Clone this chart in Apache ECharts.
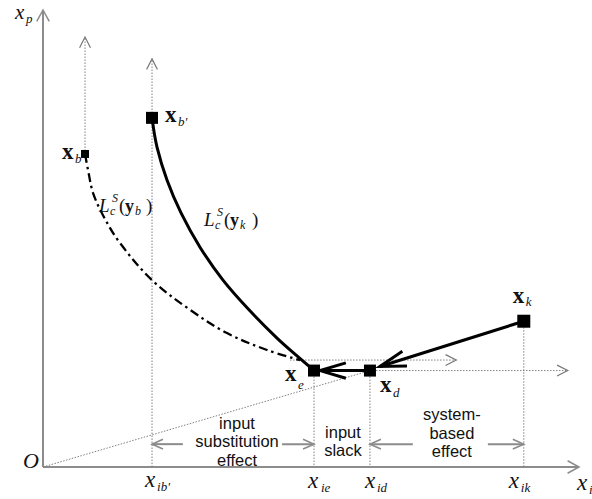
<!DOCTYPE html>
<html><head><meta charset="utf-8">
<script src="https://cdn.jsdelivr.net/npm/echarts@6/dist/echarts.min.js"></script>
<style>html,body{margin:0;padding:0;background:#fff}#c{width:592px;height:499px}</style>
</head><body><div id="c"></div>
<script>
// ---- data (abstract input units, axes 0..100) ----
const pointNames = ['x_b', "x_b'", 'x_e', 'x_d', 'x_k'];
const pointX = [7.84, 20.34, 50.56, 61.0, 89.7];
const pointY = [68.5, 76.4, 21.1, 21.1, 31.9];

// isoquant L_c^S(y_k) (solid) from x_b' to x_e
const curveKX = [20.34, 21.27, 23.13, 25.75, 29.29, 33.58, 38.43, 43.66, 47.39, 50.56];
const curveKY = [76.4, 70.0, 62.8, 55.6, 48.1, 40.9, 34.4, 28.2, 24.3, 21.1];
// isoquant L_c^S(y_b) (dash-dot) from x_b
const curveBX = [7.84, 8.40, 9.33, 11.19, 14.37, 20.34, 27.43, 34.33, 41.79, 47.95];
const curveBY = [68.5, 65.0, 60.0, 55.1, 49.0, 40.9, 34.4, 29.3, 25.6, 23.4];

// guide arrows
const axisMax = 100;
const verticalTops = [94.1, 89.3];          // arrow tips above x_b and x_b'
const upperLineY = 23.4, upperLineX = [46.1, 77.1];
const lowerLineEndX = 97.9;
const tipKtoD = [62.87, 22.0];               // arrow head near x_d
const tipDtoE = [51.68, 21.1];               // arrow head near x_e
const bracketY = 5.0;
const bracketTails = [26.1, 44.6, 69.0, 83.0];

// ---- styles / layout ----
const pointSize = [8, 12, 12, 12, 13];
const SERIF = '"Liberation Serif","Times New Roman",serif';
const SANS = '"Liberation Sans",Arial,sans-serif';
const FONTS = {
  mi: {font: 'italic 23px ' + SERIF, size: 23},
  mt: {font: 'italic 21px ' + SERIF, size: 21},
  O:  {font: 'italic 22px ' + SERIF, size: 22},
  ms: {font: 'italic 13px ' + SERIF, size: 13},
  bx: {font: 'bold 23px ' + SERIF, size: 23},
  L:  {font: 'italic 19px ' + SERIF, size: 19},
  sm: {font: 'italic 12px ' + SERIF, size: 12},
  p:  {font: '19px ' + SERIF, size: 19},
  by: {font: 'bold 18px ' + SERIF, size: 18},
  sans: {font: '16.5px ' + SANS, size: 16.5, center: true}
};
const ARROW = [
  {color: '#8c8c8c', width: 2, dash: null, head: 13, spread: 0.5, hw: 1.5},   // 0 axes
  {color: '#808080', width: 1, dash: [1.5, 1.5], head: 12, spread: 0.47, hw: 1.2, hc: '#777'}, // 1 dotted guide with head
  {color: '#000', width: 3, dash: null, head: 27, spread: 0.29, hw: 3},       // 2 thick
  {color: '#8c8c8c', width: 2, dash: null, head: 12, spread: 0.42, hw: 1.6},  // 3 annotation
  {color: '#808080', width: 1, dash: [1.5, 1.5], head: 0}                     // 4 dotted plain
];

const P = i => [pointX[i], pointY[i]];
const anchors = {
  yTip: [0, axisMax], xTip: [axisMax, 0], O: [0, 0],
  xb: P(0), xbp: P(1), xe: P(2), xd: P(3), xk: P(4),
  ib: [pointX[1], 0], ie: [pointX[2], 0], id: [pointX[3], 0], ik: [pointX[4], 0],
  mid1: [(pointX[1] + pointX[2]) / 2, 0], mid2: [(pointX[2] + pointX[3]) / 2, 0], mid3: [(pointX[3] + pointX[4]) / 2, 0]
};
// [anchor, dx, dy (baseline, or middle for sans), text, font]
const pieces = [
  ['yTip', -28, 9, 'x', 'mt'], ['yTip', -17, 13, 'p', 'ms'],
  ['O', -20, 1, 'O', 'O'],
  ['ib', -7, 20, 'x', 'mi'], ['ib', 5, 24, "ib'", 'ms'],
  ['ie', -6, 21, 'x', 'mi'], ['ie', 7, 25, 'ie', 'ms'],
  ['id', -5, 21, 'x', 'mi'], ['id', 7, 25, 'id', 'ms'],
  ['ik', -15, 21, 'x', 'mi'], ['ik', -3, 25, 'ik', 'ms'],
  ['xTip', -2, 23, 'x', 'mi'], ['xTip', 10, 27, 'i', 'ms'],
  ['xb', -23, 5, 'x', 'bx'], ['xb', -10, 9, 'b', 'ms'],
  ['xbp', 13, 4, 'x', 'bx'], ['xbp', 26, 8, "b'", 'ms'],
  ['xe', -29, 11, 'x', 'bx'], ['xe', -16, 18, 'e', 'ms'],
  ['xd', 10, 22, 'x', 'bx'], ['xd', 23, 26, 'd', 'ms'],
  ['xk', -11, -18, 'x', 'bx'], ['xk', 2, -15, 'k', 'ms'],
  ['xb', 14, 58, 'L', 'L'], ['xb', 27, 48, 'S', 'sm'], ['xb', 25, 61, 'c', 'sm'],
  ['xb', 34, 58, '(', 'p'], ['xb', 40, 58, 'y', 'by'], ['xb', 50, 61, 'b', 'sm'], ['xb', 61, 58, ')', 'p'],
  ['xbp', 52, 108, 'L', 'L'], ['xbp', 65, 98, 'S', 'sm'], ['xbp', 63, 111, 'c', 'sm'],
  ['xbp', 72, 108, '(', 'p'], ['xbp', 78, 108, 'y', 'by'], ['xbp', 88, 111, 'k', 'sm'], ['xbp', 100, 108, ')', 'p'],
  ['mid1', 4, -44, 'input', 'sans'], ['mid1', 4, -26, 'substitution', 'sans'], ['mid1', 4, -7, 'effect', 'sans'],
  ['mid2', 1, -35, 'input', 'sans'], ['mid2', 1, -17, 'slack', 'sans'],
  ['mid3', 5, -53, 'system-', 'sans'], ['mid3', 5, -34, 'based', 'sans'], ['mid3', 5, -16, 'effect', 'sans']
];

// ---- build series data ----
const thinArrows = [
  [0, 0, 0, axisMax, 0], [0, 0, axisMax, 0, 0],
  [pointX[0], pointY[0], pointX[0], verticalTops[0], 1],
  [pointX[1], 0, pointX[1], verticalTops[1], 1],
  [upperLineX[0], upperLineY, upperLineX[1], upperLineY, 1],
  [pointX[3], pointY[3], lowerLineEndX, pointY[3], 1],
  [pointX[2], pointY[2], pointX[2], 0, 4],
  [pointX[3], pointY[3], pointX[3], 0, 4],
  [pointX[4], pointY[4], pointX[4], 0, 4],
  [0, 0, pointX[3], pointY[3], 4],
  [bracketTails[0], bracketY, pointX[1], bracketY, 3],
  [bracketTails[1], bracketY, pointX[2], bracketY, 3],
  [bracketTails[2], bracketY, pointX[3], bracketY, 3],
  [bracketTails[3], bracketY, pointX[4], bracketY, 3]
];
const thickArrows = [
  [pointX[4], pointY[4], tipKtoD[0], tipKtoD[1], 2],
  [pointX[3], pointY[3], tipDtoE[0], tipDtoE[1], 2]
];

function renderArrow(params, api) {
  const a = api.coord([api.value(0), api.value(1)]);
  const b = api.coord([api.value(2), api.value(3)]);
  const st = ARROW[api.value(4)];
  const ang = Math.atan2(b[1] - a[1], b[0] - a[0]);
  const children = [{
    type: 'line', shape: {x1: a[0], y1: a[1], x2: b[0], y2: b[1]},
    style: {stroke: st.color, lineWidth: st.width, lineDash: st.dash || null, fill: null}
  }];
  if (st.head) {
    const h = st.head, w = st.spread;
    children.push({
      type: 'polyline',
      shape: {points: [[b[0] - h * Math.cos(ang - w), b[1] - h * Math.sin(ang - w)], b,
                       [b[0] - h * Math.cos(ang + w), b[1] - h * Math.sin(ang + w)]]},
      style: {stroke: st.hc || st.color, lineWidth: st.hw, fill: null, lineJoin: 'miter'}
    });
  }
  return {type: 'group', children};
}

function renderText(params, api) {
  const pc = pieces[api.value(2)];
  const f = FONTS[pc[4]];
  const c = api.coord([api.value(0), api.value(1)]);
  const y = f.center ? c[1] + pc[2] : c[1] + pc[2] - 0.34 * f.size;
  return {
    type: 'text', x: c[0] + pc[1], y: y,
    style: {text: pc[3], font: f.font, fill: '#111', align: f.center ? 'center' : 'left', verticalAlign: 'middle'}
  };
}

const chart = echarts.init(document.getElementById('c'), null, {renderer: 'svg'});
chart.setOption({
  animation: false,
  backgroundColor: '#fff',
  grid: {left: 43, right: 13, top: 10, bottom: 32},
  xAxis: {type: 'value', min: 0, max: axisMax, show: false},
  yAxis: {type: 'value', min: 0, max: axisMax, show: false},
  series: [
    {type: 'custom', name: 'guides', renderItem: renderArrow, data: thinArrows, clip: false, z: 1, silent: true},
    {type: 'line', name: 'L_c^S(y_b)', data: curveBX.map((x, i) => [x, curveBY[i]]), smooth: 0.35,
     symbol: 'none', clip: false, z: 2, lineStyle: {color: '#000', width: 2.3, type: [9, 4, 2.5, 4]}},
    {type: 'line', name: 'L_c^S(y_k)', data: curveKX.map((x, i) => [x, curveKY[i]]), smooth: 0.35,
     symbol: 'none', clip: false, z: 3, lineStyle: {color: '#000', width: 3}},
    {type: 'custom', name: 'moves', renderItem: renderArrow, data: thickArrows, clip: false, z: 4, silent: true},
    {type: 'scatter', name: 'points', data: pointX.map((x, i) => [x, pointY[i]]), symbol: 'rect',
     symbolSize: (v, p) => pointSize[p.dataIndex], itemStyle: {color: '#000', opacity: 1}, z: 5, clip: false},
    {type: 'custom', name: 'labels', renderItem: renderText, z: 6, clip: false, silent: true,
     data: pieces.map((pc, i) => [anchors[pc[0]][0], anchors[pc[0]][1], i])}
  ]
});
</script></body></html>
